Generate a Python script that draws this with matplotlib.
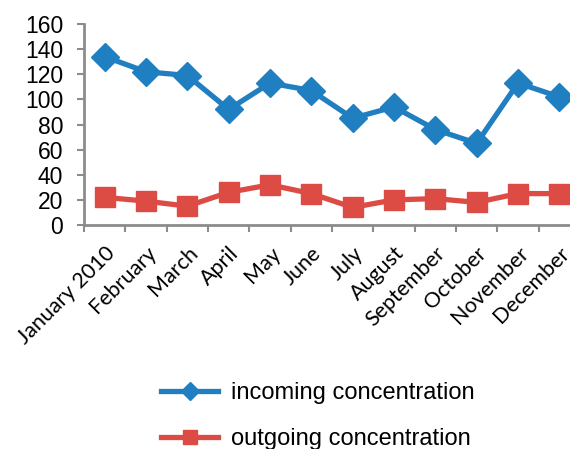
import matplotlib
matplotlib.use("Agg")
import matplotlib.pyplot as plt
import numpy as np

months = ["January 2010", "February", "March", "April", "May", "June",
          "July", "August", "September", "October", "November", "December"]
incoming = [134, 122, 119, 92, 113, 107, 85, 94, 76, 65, 113, 102]
outgoing = [22, 19, 15, 26, 32, 25, 14, 20, 21, 18, 25, 25]

blue = "#1f7fc1"
red = "#dd4b45"
axis_gray = "#8c8c8c"

fig = plt.figure(figsize=(5.7, 4.49), dpi=100)
ax = fig.add_axes([84 / 570, 224 / 449, 496 / 570, 201 / 449])

x = np.arange(len(months))
ax.plot(x, incoming, color=blue, lw=3.8, marker="D", ms=14,
        label="incoming concentration", solid_joinstyle="round")
ax.plot(x, outgoing, color=red, lw=3.8, marker="s", ms=15,
        label="outgoing concentration", solid_joinstyle="round")

ax.set_xlim(-0.5, len(months) - 0.5)
ax.set_ylim(0, 160)
ax.set_yticks(range(0, 161, 20))

for side in ("top", "right"):
    ax.spines[side].set_visible(False)
for side in ("left", "bottom"):
    ax.spines[side].set_color(axis_gray)
    ax.spines[side].set_linewidth(2)

ax.tick_params(axis="y", length=5, width=1.5, color=axis_gray, pad=10,
               labelsize=16.5)
for lab in ax.get_yticklabels():
    lab.set_fontfamily("Liberation Sans")

# month names at the centres, tick marks on the category borders
ax.set_xticks(x)
ax.set_xticklabels(months, rotation=45, ha="right", rotation_mode="anchor",
                   fontfamily="Lato", fontsize=15.5)
ax.set_xticks(np.arange(len(months) + 1) - 0.5, minor=True)
ax.tick_params(axis="x", which="major", length=0, pad=13)
ax.tick_params(axis="x", which="minor", length=5, width=1.5, color=axis_gray)

leg = fig.legend(loc="upper left", bbox_to_anchor=(140 / 570, 1 - 361 / 449),
                 frameon=False, handlelength=2.4, handletextpad=0.55,
                 labelspacing=1.02, markerscale=0.65,
                 prop={"family": "Liberation Sans", "size": 17})

fig.savefig("out.png", dpi=100)
